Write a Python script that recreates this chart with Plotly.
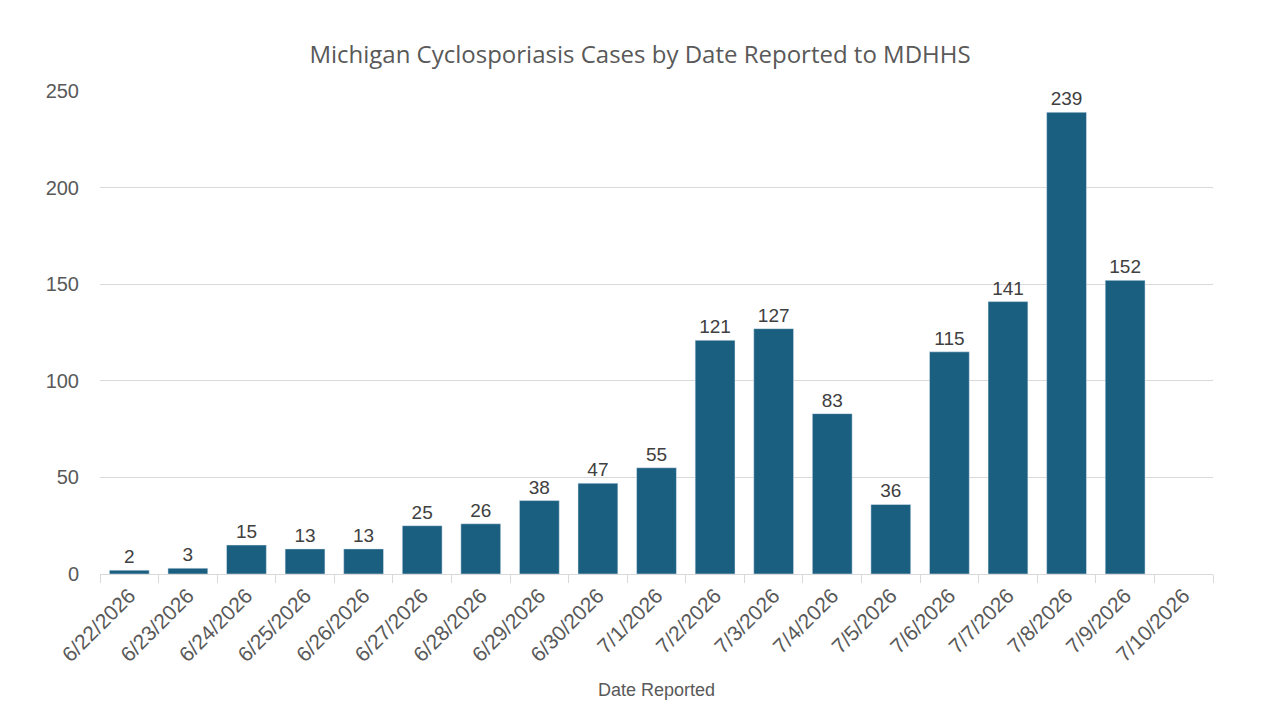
import plotly.graph_objects as go

dates = ["6/22/2026", "6/23/2026", "6/24/2026", "6/25/2026", "6/26/2026", "6/27/2026",
         "6/28/2026", "6/29/2026", "6/30/2026", "7/1/2026", "7/2/2026", "7/3/2026",
         "7/4/2026", "7/5/2026", "7/6/2026", "7/7/2026", "7/8/2026", "7/9/2026", "7/10/2026"]
cases = [2, 3, 15, 13, 13, 25, 26, 38, 47, 55, 121, 127, 83, 36, 115, 141, 239, 152, None]
y_ticks = [0, 50, 100, 150, 200, 250]

labels = ["" if v is None else str(v) for v in cases]

fig = go.Figure(go.Bar(
    x=dates, y=cases, text=labels, textposition="outside",
    textfont=dict(size=19, color="#404040", family="Liberation Sans, Arial"),
    marker_color="#1a5e80", cliponaxis=False, width=0.68,
))

fig.update_layout(
    width=1280, height=720,
    margin=dict(l=100, r=67, t=91, b=146),
    paper_bgcolor="white", plot_bgcolor="white",
    title=dict(text="Michigan Cyclosporiasis Cases by Date Reported to MDHHS",
               x=0.5, xanchor="center", y=0.924, yanchor="middle",
               font=dict(size=24, color="#595959", family="Open Sans")),
    showlegend=False,
    font=dict(family="Liberation Sans, Arial", color="#595959"),
)
fig.update_xaxes(
    type="category", tickangle=-45, tickfont=dict(size=21, color="#595959"),
    ticks="outside", tickson="boundaries", ticklen=8, tickcolor="#d9d9d9",
    showline=True, linecolor="#d9d9d9", linewidth=1, showgrid=False,
    title=dict(text="Date Reported", font=dict(size=18, color="#595959"), standoff=18),
)
fig.update_yaxes(
    range=[0, 250], tickvals=y_ticks, tickfont=dict(size=20, color="#595959"),
    showgrid=True, gridcolor="#d9d9d9", gridwidth=1, zeroline=False,
    ticks="", ticklabelstandoff=20,
)

fig.write_html("out.html")
